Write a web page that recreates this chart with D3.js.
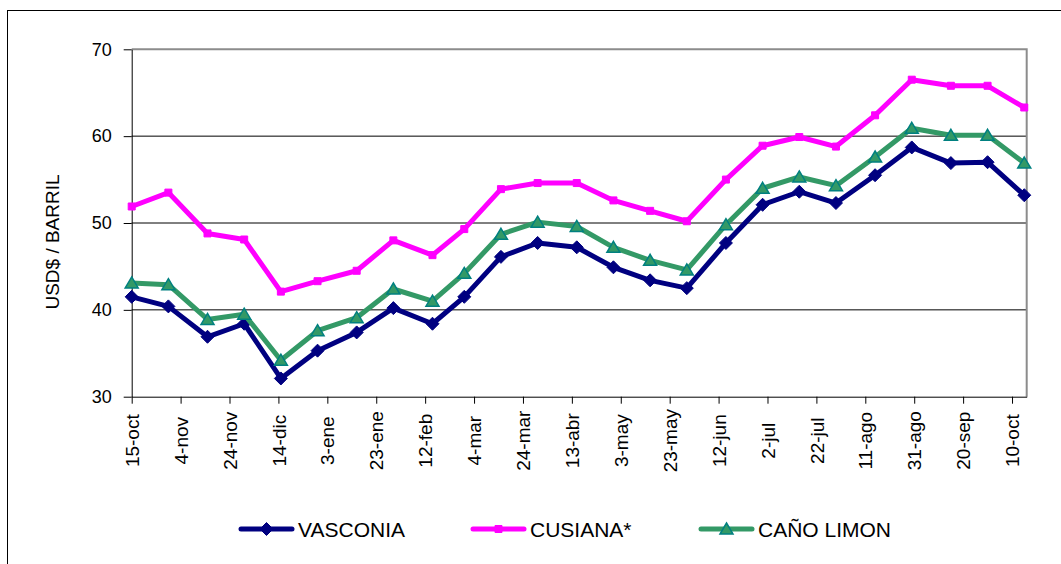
<!DOCTYPE html>
<html>
<head>
<meta charset="utf-8">
<script src="https://cdn.jsdelivr.net/npm/d3@7"></script>
<style>
  body { margin: 0; background: #fff; }
  #chart svg text { font-family: "Liberation Sans", Arial, sans-serif; fill: #000; }
</style>
</head>
<body>
<div id="chart"></div>
<script>
// Data: semi-monthly prices, USD$ / barril
var dates = ['2004-10-15','2004-10-30','2004-11-15','2004-11-30','2004-12-15','2004-12-30',
  '2005-01-15','2005-01-30','2005-02-15','2005-02-28','2005-03-15','2005-03-30',
  '2005-04-15','2005-04-30','2005-05-15','2005-05-30','2005-06-15','2005-06-30',
  '2005-07-15','2005-07-30','2005-08-15','2005-08-30','2005-09-15','2005-09-30','2005-10-15'];

var vasconia  = [41.5,40.4,36.9,38.4,32.1,35.3,37.4,40.2,38.4,41.5,46.1,47.7,47.2,
  44.9,43.4,42.5,47.7,52.1,53.6,52.3,55.5,58.7,56.9,57.0,53.2];
var cusiana   = [51.9,53.5,48.8,48.1,42.1,43.3,44.5,48.0,46.3,49.3,53.9,54.6,54.6,
  52.6,51.4,50.2,55.0,58.9,59.9,58.8,62.4,66.5,65.8,65.8,63.3];
var canoLimon = [43.1,42.9,38.9,39.5,34.2,37.6,39.1,42.4,41.0,44.2,48.7,50.1,49.6,
  47.2,45.7,44.6,49.8,54.0,55.3,54.3,57.6,60.9,60.1,60.1,56.9];

var seriesNames = ['VASCONIA', 'CUSIANA*', 'CAÑO LIMON'];

var tickDates  = ['2004-10-15','2004-11-04','2004-11-24','2004-12-14','2005-01-03','2005-01-23',
  '2005-02-12','2005-03-04','2005-03-24','2005-04-13','2005-05-03','2005-05-23','2005-06-12',
  '2005-07-02','2005-07-22','2005-08-11','2005-08-31','2005-09-20','2005-10-10'];
var tickLabels = ['15-oct','4-nov','24-nov','14-dic','3-ene','23-ene','12-feb','4-mar','24-mar',
  '13-abr','3-may','23-may','12-jun','2-jul','22-jul','11-ago','31-ago','20-sep','10-oct'];
var yTicks = [30, 40, 50, 60, 70];
var axisStart = '2004-10-15', axisEnd = '2005-10-16';

var LineChart = function(_id) {

  var that = this;
  var parse = d3.utcParse('%Y-%m-%d');

  that.id = _id;
  that.widthCont  = 1061;
  that.heightCont = 564;
  that.plot = {left: 131.7, right: 1026.7, top: 49.3, bottom: 396.7};

  that.init = function() {

    that.svg = d3.select('#' + that.id).append('svg')
      .attr('width', that.widthCont)
      .attr('height', that.heightCont);

    // outer chart frame
    that.svg.append('rect')
      .attr('x', 7.5).attr('y', 10.5)
      .attr('width', 1100).attr('height', 600)
      .attr('fill', '#fff').attr('stroke', '#000');

    that.x = d3.scaleUtc()
      .domain([parse(axisStart), parse(axisEnd)])
      .range([that.plot.left, that.plot.right]);

    that.y = d3.scaleLinear()
      .domain([30, 70])
      .range([that.plot.bottom, that.plot.top]);

    that.series = [
      {name: seriesNames[0], values: vasconia,  color: '#000080', marker: 'diamond'},
      {name: seriesNames[1], values: cusiana,   color: '#ff00ff', marker: 'square'},
      {name: seriesNames[2], values: canoLimon, color: '#339966', marker: 'triangle'}
    ];

    drawGrid();
    drawAxes();
    drawSeries();
    drawLegend();

    return that;
  };

  var drawGrid = function() {
    that.svg.append('g').attr('class', 'grid')
      .selectAll('line')
      .data(yTicks.slice(1, -1))
    .enter().append('line')
      .attr('x1', that.plot.left).attr('x2', that.plot.right)
      .attr('y1', function(d) { return that.y(d); })
      .attr('y2', function(d) { return that.y(d); })
      .attr('stroke', '#000').attr('stroke-width', 1);

    // top and right of plot area in grey
    that.svg.append('path')
      .attr('d', 'M' + that.plot.left + ',' + that.y(70) + 'H' + that.plot.right + 'V' + that.plot.bottom)
      .attr('fill', 'none').attr('stroke', '#8c8c8c').attr('stroke-width', 2);
  };

  var drawAxes = function() {
    var xAxis = that.svg.append('g')
      .attr('class', 'x axis')
      .attr('transform', 'translate(0,' + that.plot.bottom + ')')
      .call(d3.axisBottom(that.x)
        .tickValues(tickDates.map(parse))
        .tickFormat(function(d, i) { return tickLabels[i]; })
        .tickSize(7)
        .tickSizeOuter(0));

    xAxis.selectAll('text')
      .attr('transform', 'rotate(-90)')
      .attr('x', -44).attr('y', 0).attr('dy', '0.35em')
      .style('text-anchor', 'middle')
      .style('font-size', '19px');

    var yAxis = that.svg.append('g')
      .attr('class', 'y axis')
      .attr('transform', 'translate(' + that.plot.left + ',0)')
      .call(d3.axisLeft(that.y)
        .tickValues(yTicks)
        .tickSize(8)
        .tickPadding(12)
        .tickSizeOuter(0));

    yAxis.selectAll('text').style('font-size', '18px');

    that.svg.selectAll('.axis path, .axis line').attr('stroke', '#000');

    that.svg.append('text')
      .attr('transform', 'translate(52,' + 242 + ') rotate(-90)')
      .attr('dy', '0.35em')
      .style('text-anchor', 'middle')
      .style('font-size', '19px')
      .text('USD$ / BARRIL');
  };

  var markerPath = function(type) {
    if (type === 'diamond')  return 'M0,-6.5L6.5,0L0,6.5L-6.5,0Z';
    if (type === 'square')   return 'M-3.5,-3.5H3.5V3.5H-3.5Z';
    return 'M0,-6L6.5,5H-6.5Z';
  };

  var setupMarker = function(sel, s) {
    sel.attr('d', markerPath(s.marker))
      .attr('fill', s.color)
      .attr('stroke', s.marker === 'triangle' ? '#008080' : s.color)
      .attr('stroke-width', s.marker === 'triangle' ? 1.5 : 1);
  };

  var drawSeries = function() {
    var line = d3.line()
      .x(function(d, i) { return that.x(parse(dates[i])); })
      .y(function(d) { return that.y(d); });

    // draw in order so the green series sits over the others like the original
    [that.series[1], that.series[0], that.series[2]].forEach(function(s) {
      var g = that.svg.append('g').attr('class', 'series');
      g.append('path')
        .attr('d', line(s.values))
        .attr('fill', 'none')
        .attr('stroke', s.color)
        .attr('stroke-width', 5)
        .attr('stroke-linejoin', 'round');
      g.selectAll('.marker')
        .data(s.values)
      .enter().append('path')
        .attr('class', 'marker')
        .attr('transform', function(d, i) { return 'translate(' + that.x(parse(dates[i])) + ',' + that.y(d) + ')'; })
        .each(function() { setupMarker(d3.select(this), s); });
    });
  };

  var drawLegend = function() {
    var legendX = [241, 473, 701];
    var legend = that.svg.append('g').attr('class', 'legend')
      .selectAll('g')
      .data(that.series)
    .enter().append('g')
      .attr('transform', function(d, i) { return 'translate(' + legendX[i] + ',529)'; });

    legend.append('line')
      .attr('x1', 0).attr('x2', 51)
      .attr('stroke', function(d) { return d.color; })
      .attr('stroke-width', 5)
      .attr('stroke-linecap', 'round');

    legend.append('path')
      .attr('transform', 'translate(25.5,0)')
      .each(function(d) { setupMarker(d3.select(this), d); });

    legend.append('text')
      .attr('x', 57).attr('y', 0).attr('dy', '0.36em')
      .style('font-size', '21px')
      .text(function(d) { return d.name; });
  };

  return that;
};

var chart = new LineChart('chart').init();
</script>
</body>
</html>
